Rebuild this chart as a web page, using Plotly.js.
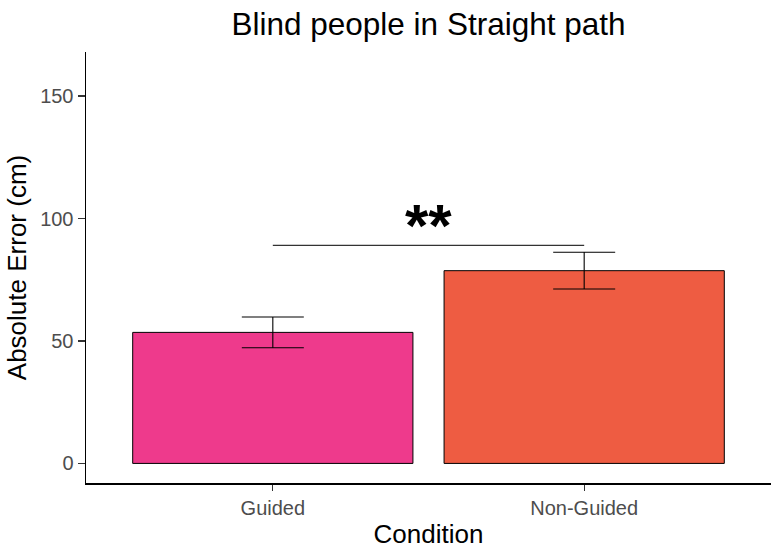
<!DOCTYPE html>
<html>
<head>
<meta charset="utf-8">
<script src="https://cdn.plot.ly/plotly-3.0.1.min.js"></script>
<style>html,body{margin:0;padding:0;background:#fff;}#chart{width:780px;height:549px;}</style>
</head>
<body>
<div id="chart"></div>
<script>
const conditions = ["Guided", "Non-Guided"];
const meanError = [53.5, 78.7];
const seError = [6.3, 7.5];
const barColors = ["#EE3A8C", "#EE5C42"];
const sigPair = ["Guided", "Non-Guided"];
const sigLevel = [89, 89];
const sigLabel = "**";
const yTicks = [0, 50, 100, 150];

const font = "Liberation Sans, Arial, sans-serif";

const bars = {
  type: "bar",
  x: conditions,
  y: meanError,
  marker: { color: barColors, line: { color: "#000000", width: 1 } },
  error_y: { type: "data", array: seError, visible: true, color: "#000000", thickness: 1.1, width: 31 },
  hoverinfo: "skip",
  showlegend: false
};

const sigLine = {
  type: "scatter",
  mode: "lines",
  x: sigPair,
  y: sigLevel,
  line: { color: "#333333", width: 1.2 },
  hoverinfo: "skip",
  showlegend: false
};

const layout = {
  width: 780,
  height: 549,
  paper_bgcolor: "#ffffff",
  plot_bgcolor: "#ffffff",
  margin: { l: 86, r: 9, t: 52, b: 66 },
  bargap: 0.1,
  title: {
    text: "Blind people in Straight path",
    font: { family: font, size: 31.5, color: "#000000" },
    x: 0.5, xref: "paper", xanchor: "center",
    y: 1 - 24 / 549, yref: "container", yanchor: "middle"
  },
  xaxis: {
    type: "category",
    range: [-0.6, 1.6],
    showline: true, linecolor: "#000000", linewidth: 1.5,
    ticks: "outside", ticklen: 6, tickcolor: "#333333", tickwidth: 1.2,
    tickfont: { family: font, size: 20, color: "#4d4d4d" },
    showgrid: false, zeroline: false,
    title: { text: "Condition", font: { family: font, size: 26, color: "#000000" }, standoff: 8 }
  },
  yaxis: {
    range: [-8, 168],
    tickvals: yTicks,
    showline: true, linecolor: "#000000", linewidth: 1.5,
    ticks: "outside", ticklen: 7, tickcolor: "#333333", tickwidth: 1.2,
    tickfont: { family: font, size: 20, color: "#4d4d4d" },
    showgrid: false, zeroline: false,
    title: { text: "Absolute Error (cm)", font: { family: font, size: 26, color: "#000000" }, standoff: 6 }
  },
  annotations: [{
    x: 0.5, xref: "x", y: sigLevel[0], yref: "y",
    text: "<b>" + sigLabel + "</b>", showarrow: false,
    yanchor: "bottom", yshift: -16,
    font: { family: font, size: 60, color: "#000000" }
  }]
};

Plotly.newPlot("chart", [bars, sigLine], layout, { displayModeBar: false, staticPlot: true });
</script>
</body>
</html>
